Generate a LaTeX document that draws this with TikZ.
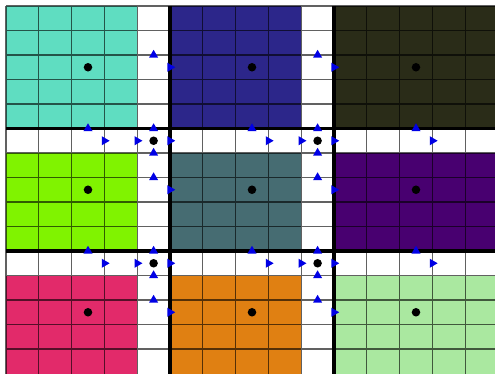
\documentclass[tikz,border=0pt]{standalone}
\usetikzlibrary{shapes.geometric}

\definecolor{tileA}{RGB}{95,221,193}
\definecolor{tileB}{RGB}{44,38,138}
\definecolor{tileC}{RGB}{42,44,24}
\definecolor{tileD}{RGB}{128,243,0}
\definecolor{tileE}{RGB}{70,108,114}
\definecolor{tileF}{RGB}{72,0,112}
\definecolor{tileG}{RGB}{226,42,106}
\definecolor{tileH}{RGB}{224,128,18}
\definecolor{tileI}{RGB}{170,232,160}

\begin{document}
\begin{tikzpicture}[
  x=1cm, y=-0.747cm,
  gridline/.style={draw=black, draw opacity=0.62, line width=1pt},
  tileline/.style={draw=black, line width=3pt},
  pdot/.style={circle, fill=black, inner sep=0pt, minimum size=2.6mm},
  vtri/.style={regular polygon, regular polygon sides=3, fill=blue!90!black,
               inner sep=0pt, minimum size=3.2mm},
  utri/.style={vtri, shape border rotate=-90}
]
\useasboundingbox (-0.183,-0.245) rectangle (14.909,14.98);
\clip (-0.183,-0.245) rectangle (14.909,14.98);

% tile colours (halo column and row stay white)
\fill[tileA] (0,0)   rectangle (4,5);
\fill[tileB] (5,0)   rectangle (9,5);
\fill[tileC] (10,0)  rectangle (16,5);
\fill[tileD] (0,6)   rectangle (4,10);
\fill[tileE] (5,6)   rectangle (9,10);
\fill[tileF] (10,6)  rectangle (16,10);
\fill[tileG] (0,11)  rectangle (4,16);
\fill[tileH] (5,11)  rectangle (9,16);
\fill[tileI] (10,11) rectangle (16,16);

% cells
\draw[gridline] \foreach \c in {0,...,15} {(\c,0) -- (\c,16)}
                \foreach \r in {0,...,14} {(0,\r) -- (16,\r)};

% tile borders
\draw[tileline] (5,0) -- (5,16);
\draw[tileline] (10,0) -- (10,16);
\draw[tileline] (0,5) -- (16,5);
\draw[tileline] (0,10) -- (16,10);

% centre of every tile
\foreach \i in {0,1,2} \foreach \j in {0,1,2} {
  \node[pdot] (p\i\j) at ({5*\i+2.5},{5*\j+2.5}) {};
}

% faces in the halo column
\foreach \i in {0,1} \foreach \j in {0,1,2} {
  \node[vtri] (vh\i\j) at ({5*\i+4.5},{5*\j+2}) {};
  \node[utri] (uh\i\j) at ({5*\i+5},{5*\j+2.5}) {};
}

% faces on the tile edges
\foreach \i in {0,1,2} \foreach \j in {0,1} {
  \node[vtri] (ve\i\j) at ({5*\i+2.5},{5*\j+5}) {};
  \node[utri] (ue\i\j) at ({5*\i+3},{5*\j+5.5}) {};
}

% halo corners
\foreach \i in {0,1} \foreach \j in {0,1} {
  \node[pdot] (pc\i\j) at ({5*\i+4.5},{5*\j+5.5}) {};
  \node[vtri] (vc\i\j) at ({5*\i+4.5},{5*\j+5}) {};
  \node[vtri] (vd\i\j) at ({5*\i+4.5},{5*\j+6}) {};
  \node[utri] (uc\i\j) at ({5*\i+4},{5*\j+5.5}) {};
  \node[utri] (ud\i\j) at ({5*\i+5},{5*\j+5.5}) {};
}
\end{tikzpicture}
\end{document}
